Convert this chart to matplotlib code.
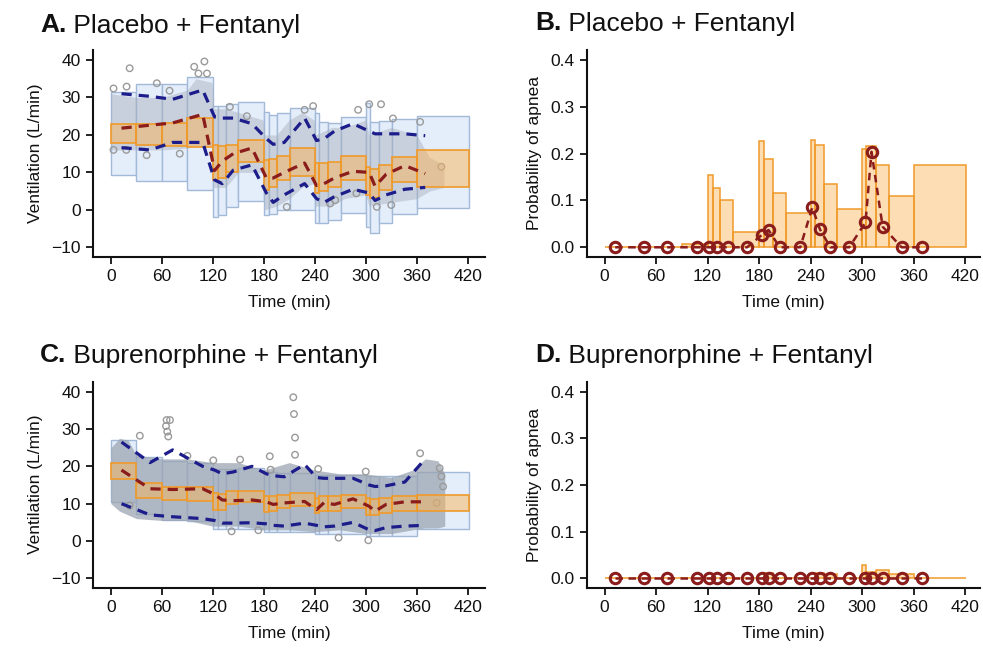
import matplotlib
matplotlib.use('Agg')
import matplotlib.pyplot as plt
import numpy as np

plt.rcParams['font.family'] = ['Liberation Sans', 'DejaVu Sans']

# ---------------- data ----------------
bin_edges = [0, 30, 60, 90, 120, 126, 135, 150, 180, 186, 196, 211, 240, 245, 256,
             271, 300, 305, 316, 331, 360, 421]
bin_times = [12.4, 46, 72.6, 108, 122, 131, 144, 166, 183, 191, 204, 228, 242, 251,
             263, 285, 304, 311, 324, 346, 370]

# Panel A: Placebo + Fentanyl (ventilation)
a_pi_lo = [9.3, 7.7, 7.7, 5.3, -1.8, -1.5, 0.7, 2.4, -1.4, -1.0, 0.0, 0.0, -3.6, -3.6,
           -2.7, -0.9, -4.5, -6.2, -3.6, -1.2, 0.4]
a_pi_hi = [31.5, 33.5, 33.5, 35.5, 27.7, 27.7, 28.2, 28.9, 26.2, 25.3, 25.8, 27.3, 25.8,
           23.5, 23.3, 24.7, 28.4, 23.5, 23.8, 24.2, 25.1]
a_med_lo = [17.8, 17.3, 17.1, 16.9, 8.0, 8.5, 10.2, 12.7, 5.3, 6.2, 8.0, 9.0, 4.4, 5.0,
            6.2, 8.0, 4.0, 3.1, 5.3, 7.5, 6.0]
a_med_hi = [22.8, 23.0, 23.3, 24.4, 17.3, 17.0, 17.3, 18.6, 13.3, 13.5, 14.4, 16.4, 12.4,
            12.4, 12.9, 14.4, 11.5, 10.8, 12.0, 14.2, 16.0]
a_obs_p95 = [31.0, 30.3, 29.5, 32.0, 24.8, 24.5, 24.5, 23.0, 19.0, 17.5, 18.0, 24.5, 18.5,
             19.0, 21.0, 23.0, 21.0, 20.3, 20.3, 20.3, 19.8]
a_obs_p50 = [21.8, 22.6, 23.2, 25.5, 10.5, 13.0, 15.0, 16.5, 8.5, 8.5, 10.0, 12.5, 6.5,
             7.0, 8.5, 10.3, 10.0, 6.3, 9.5, 11.8, 9.7]
a_obs_p05 = [16.6, 16.0, 18.0, 18.0, 8.0, 7.0, 10.6, 12.0, 4.5, 2.0, 4.0, 7.0, 3.0, 2.0,
             3.5, 5.5, 4.5, 2.5, 4.0, 5.5, 6.0]
a_cloud_t = [0, 30, 60, 90, 100, 119, 121, 135, 150, 179, 181, 195, 210, 225, 239, 241,
             260, 275, 300, 304, 330, 360, 375, 392]
a_cloud_lo = [16, 16, 16, 16.5, 17, 17, 6, 6, 10, 10, 0, 1, 3, 6, 7, 1, 1, 3, 4, 1, 2, 3, 5, 6]
a_cloud_hi = [31, 30, 30, 32, 35, 34, 27, 27, 26, 24, 20, 20, 24, 26, 24, 20, 22, 22, 24,
              20, 22, 20, 14, 12]
a_out_t = [22, 3, 18.4, 54, 69, 98, 110, 103, 113, 81, 3, 18, 42, 140, 160, 238, 228, 291,
           304, 318, 332, 207, 258, 264, 313, 330, 389, 364, 289]
a_out_v = [37.8, 32.4, 32.9, 33.8, 31.8, 38.2, 39.6, 36.4, 36.4, 15.0, 16.0, 16.0, 14.6,
           27.5, 25.0, 27.7, 26.7, 26.7, 28.2, 28.2, 24.4, 0.8, 1.7, 2.6, 0.8, 1.3, 11.5,
           23.5, 4.4]

# Panel B: Placebo + Fentanyl (probability of apnea)
b_pi_hi = [0.0, 0.0, 0.0, 0.006, 0.154, 0.126, 0.101, 0.032, 0.226, 0.188, 0.115, 0.074,
           0.229, 0.218, 0.135, 0.081, 0.211, 0.217, 0.176, 0.110, 0.176]
b_obs = [0, 0, 0, 0, 0, 0, 0, 0, 0.026, 0.037, 0, 0, 0.085, 0.038, 0, 0, 0.053, 0.204,
         0.044, 0, 0]

# Panel C: Buprenorphine + Fentanyl (ventilation)
c_pi_lo = [10.4, 7.3, 5.7, 5.3, 3.3, 3.3, 3.3, 3.1, 2.4, 2.4, 2.4, 2.4, 1.8, 1.8, 1.8,
           1.8, 1.3, 1.3, 1.3, 1.3, 3.1]
c_pi_hi = [27.1, 22.5, 21.5, 21.0, 19.3, 19.3, 19.3, 19.5, 18.4, 18.4, 18.2, 18.2, 17.8,
           17.8, 17.8, 17.8, 17.3, 17.3, 17.3, 17.3, 18.4]
c_med_lo = [16.6, 11.5, 11.1, 10.6, 8.4, 8.4, 9.8, 10.4, 7.7, 8.0, 8.9, 9.3, 7.5, 8.0, 8.0,
            8.9, 7.1, 7.1, 7.5, 8.0, 8.0]
c_med_hi = [20.9, 15.5, 14.6, 14.6, 12.9, 12.7, 13.3, 13.3, 12.0, 12.0, 12.2, 12.9, 11.5,
            12.0, 12.0, 12.4, 11.5, 11.2, 11.5, 12.0, 12.4]
c_obs_p95 = [26.5, 21.0, 24.4, 20.0, 19.0, 18.0, 18.5, 20.0, 18.0, 17.5, 17.2, 20.5, 17.0,
             16.8, 16.8, 16.8, 15.0, 14.6, 14.8, 15.8, 22.0]
c_obs_p50 = [19.0, 14.0, 13.8, 14.0, 12.5, 11.0, 10.8, 11.0, 10.5, 9.8, 10.2, 10.6, 8.4,
             10.3, 9.8, 11.3, 9.3, 8.0, 9.8, 10.5, 10.5]
c_obs_p05 = [10.0, 7.0, 6.5, 6.0, 5.5, 4.8, 4.8, 4.9, 4.6, 4.2, 4.0, 4.8, 4.2, 3.8, 4.0,
             5.0, 3.0, 2.8, 3.6, 4.0, 4.2]
c_cloud_t = [0, 10, 20, 30, 60, 90, 120, 150, 180, 210, 240, 270, 300, 330, 355, 370, 385, 393]
c_cloud_lo = [10, 8, 7, 6, 5.5, 5.5, 4, 4, 3, 3, 2.5, 3, 2, 2, 3, 3.5, 3.5, 4]
c_cloud_hi = [25, 27.5, 27, 23, 22, 22, 21, 21, 19, 21, 19, 18, 18, 17, 19, 22, 21.5, 18]
c_out_t = [65.5, 69.5, 64.8, 66.3, 67.5, 34, 214.7, 215.5, 216.7, 216.7, 187, 188, 244,
           300, 303, 268, 142, 173.5, 364, 387, 389, 391, 383.5, 22, 90, 120.5, 152]
c_out_v = [32.4, 32.4, 30.8, 29.3, 28.0, 28.2, 38.5, 34.0, 27.7, 23.1, 22.7, 19.1, 19.3,
           18.6, 0.2, 0.9, 2.6, 2.9, 23.5, 19.5, 17.3, 14.6, 10.2, 9.5, 22.8, 21.6, 21.8]

# Panel D: Buprenorphine + Fentanyl (probability of apnea)
d_pi_hi = [0, 0, 0, 0, 0, 0, 0, 0, 0, 0.012, 0, 0, 0, 0.012, 0.010, 0, 0.028, 0.014,
           0.018, 0.010, 0]
d_obs = [0] * 21

titles = [("A.", " Placebo + Fentanyl"), ("B.", " Placebo + Fentanyl"),
          ("C.", " Buprenorphine + Fentanyl"), ("D.", " Buprenorphine + Fentanyl")]

# ---------------- styling ----------------
W, H = 983, 650
fig = plt.figure(figsize=(W / 100, H / 100), dpi=100)

BLUE_FILL = '#E4EEFB'
BLUE_EDGE = '#A3B9D8'
OR_FILL = '#F9B459'
OR_EDGE = '#F09A2A'
NAVY = '#1C1C8A'
DRED = '#8A1C1C'
FS = 12.5

edges = np.array(bin_edges, dtype=float)
lefts = edges[:-1]
widths = np.diff(edges)


def style_axes(ax, ylabel, yticks, ylim, yfmt):
    ax.set_xlim(-20.8, 440.4 if ylim[1] > 1 else 437.4)
    ax.set_ylim(*ylim)
    for s in ['top', 'right']:
        ax.spines[s].set_visible(False)
    for s in ['left', 'bottom']:
        ax.spines[s].set_linewidth(1.5)
        ax.spines[s].set_color('#111111')
    ax.set_xticks([0, 60, 120, 180, 240, 300, 360, 420])
    ax.set_yticks(yticks)
    ax.set_yticklabels([yfmt(v) for v in yticks])
    ax.tick_params(axis='both', length=5, width=1.3, labelsize=FS,
                   colors='#111111', pad=4)
    ax.set_xlabel('Time (min)', fontsize=FS, labelpad=8, color='#111111')
    ax.set_ylabel(ylabel, fontsize=FS, labelpad=6, color='#111111')


def vent_panel(ax, pi_lo, pi_hi, med_lo, med_hi, p95, p50, p05,
               cl_t, cl_lo, cl_hi, out_t, out_v, cloud_color, cloud_alpha):
    pl = np.array(pi_lo); ph = np.array(pi_hi)
    ax.bar(lefts, ph - pl, bottom=pl, width=widths, align='edge',
           color=BLUE_FILL, edgecolor=BLUE_EDGE, linewidth=1.0, zorder=1)
    ax.fill_between(cl_t, cl_lo, cl_hi, color=cloud_color, alpha=cloud_alpha,
                    linewidth=0, zorder=2)
    ax.scatter(out_t, out_v, s=22, facecolors='none', edgecolors='#9A9A9A',
               linewidths=1.0, zorder=2.5)
    ml = np.array(med_lo); mh = np.array(med_hi)
    ax.bar(lefts, mh - ml, bottom=ml, width=widths, align='edge',
           color=OR_FILL, alpha=0.5, edgecolor='none', zorder=3)
    ax.bar(lefts, mh - ml, bottom=ml, width=widths, align='edge',
           facecolor='none', edgecolor=OR_EDGE, linewidth=1.2, zorder=3.1)
    for arr, col in [(p95, NAVY), (p05, NAVY), (p50, DRED)]:
        ax.plot(bin_times, arr, color=col, lw=2.3, dashes=(3.2, 2.2),
                zorder=4, solid_capstyle='butt')
    style_axes(ax, 'Ventilation (L/min)', [-10, 0, 10, 20, 30, 40], (-12.5, 42.67),
               lambda v: f'\u2212{abs(v)}' if v < 0 else f'{v}')


def prob_panel(ax, pi_hi, obs):
    ph = np.array(pi_hi)
    ax.bar(lefts, ph, bottom=0, width=widths, align='edge',
           color=OR_FILL, alpha=0.45, edgecolor='none', zorder=1)
    ax.bar(lefts, ph, bottom=0, width=widths, align='edge',
           facecolor='none', edgecolor=OR_EDGE, linewidth=1.1, zorder=1.1)
    ax.plot(bin_times, obs, color=DRED, lw=1.8, dashes=(3, 2.2), zorder=3)
    ax.plot(bin_times, obs, linestyle='none', marker='o', markersize=7.5,
            markerfacecolor='none', markeredgecolor=DRED, markeredgewidth=2.2,
            zorder=4)
    style_axes(ax, 'Probability of apnea', [0.0, 0.1, 0.2, 0.3, 0.4],
               (-0.0201, 0.4214), lambda v: f'{v:.1f}')


def pos(l, r, b, t):
    return [l / W, 1 - b / H, (r - l) / W, (b - t) / H]


axA = fig.add_axes(pos(93.3, 485, 256.7, 50))
axB = fig.add_axes(pos(586.7, 980, 256.7, 50))
axC = fig.add_axes(pos(93.3, 485, 587.7, 381.7))
axD = fig.add_axes(pos(586.7, 980, 587.7, 381.7))

vent_panel(axA, a_pi_lo, a_pi_hi, a_med_lo, a_med_hi, a_obs_p95, a_obs_p50, a_obs_p05,
           a_cloud_t, a_cloud_lo, a_cloud_hi, a_out_t, a_out_v, '#A4ACB8', 0.45)
prob_panel(axB, b_pi_hi, b_obs)
vent_panel(axC, c_pi_lo, c_pi_hi, c_med_lo, c_med_hi, c_obs_p95, c_obs_p50, c_obs_p05,
           c_cloud_t, c_cloud_lo, c_cloud_hi, c_out_t, c_out_v, '#9AA3B0', 0.72)
prob_panel(axD, d_pi_hi, d_obs)

# titles
title_pos = [(40, 25.5), (535, 23.5), (40, 355.5), (535, 355.5)]
fig.canvas.draw()
for (bold, rest), (x, y) in zip(titles, title_pos):
    t1 = fig.text(x / W, 1 - y / H, bold, fontsize=19, fontweight='bold',
                  va='center', ha='left', color='#111111')
    bb = t1.get_window_extent(renderer=fig.canvas.get_renderer())
    fig.text(bb.x1 / W, 1 - y / H, rest, fontsize=19, va='center', ha='left',
             color='#111111')

fig.savefig('out.png', dpi=100)
